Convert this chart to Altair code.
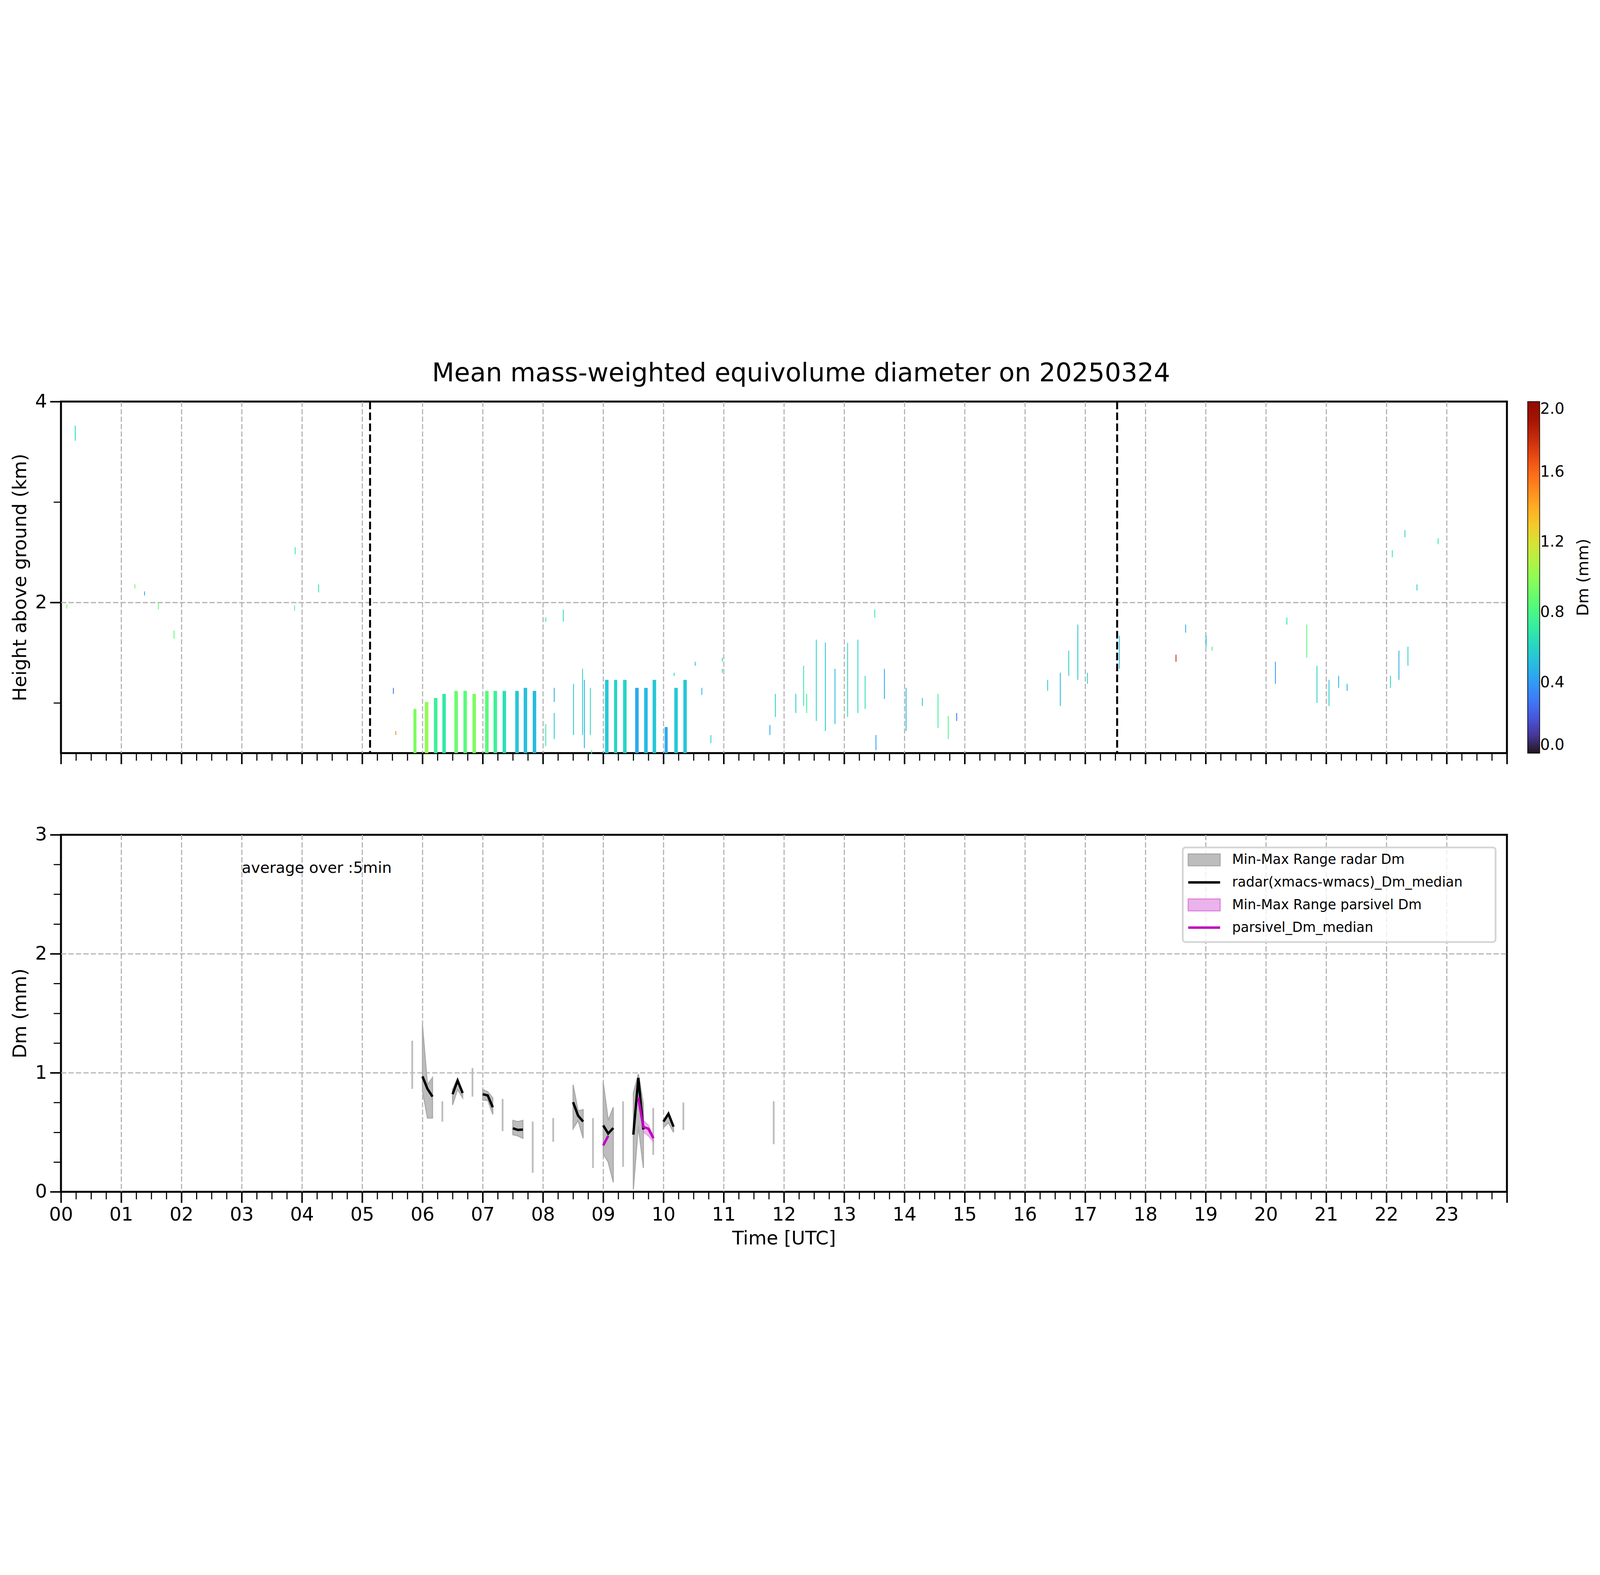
import altair as alt
import pandas as pd

# ---- top panel: radar Dm columns (start hour, width h, bottom km, top km, Dm mm)
col_t = [5.85, 6.04, 6.19, 6.33, 6.53, 6.68, 6.83, 7.04, 7.18, 7.33, 7.54, 7.68, 7.83,
         9.03, 9.18, 9.33, 9.53, 9.68, 9.82, 10.02, 10.18, 10.33]
col_w = [0.05, 0.058, 0.058, 0.058, 0.058, 0.058, 0.058, 0.058, 0.058, 0.058, 0.058, 0.058, 0.058,
         0.058, 0.052, 0.058, 0.058, 0.058, 0.058, 0.05, 0.058, 0.058]
col_lo = [0.5] * 22
col_hi = [0.94, 1.01, 1.05, 1.09, 1.12, 1.12, 1.09, 1.12, 1.12, 1.12, 1.12, 1.15, 1.12,
          1.23, 1.23, 1.23, 1.15, 1.15, 1.23, 0.76, 1.15, 1.23]
col_dm = [0.95, 1.0, 0.75, 0.7, 0.9, 0.85, 0.95, 0.85, 0.75, 0.65, 0.55, 0.52, 0.5,
          0.55, 0.6, 0.6, 0.45, 0.5, 0.55, 0.45, 0.55, 0.55]

# thin scattered sticks
st_t = [0.09, 0.23, 1.22, 1.38, 1.61, 1.87, 3.87, 3.88, 4.27, 5.51, 5.55,
        8.04, 8.04, 8.18, 8.18, 8.33, 8.5, 8.65, 8.68, 8.78, 8.8,
        10.17, 10.52, 10.63, 10.78, 10.97, 10.97, 11.76,
        11.85, 12.19, 12.32, 12.37, 12.53, 12.68, 12.84, 13.05, 13.22, 13.34, 13.5, 13.52, 13.66,
        14.02, 14.29, 14.55, 14.72, 14.86, 16.37, 16.58, 16.72, 16.87, 17.03, 17.56,
        18.5, 18.66, 19.0, 19.1, 20.15, 20.34, 20.67, 20.84, 21.04, 21.2, 21.34,
        22.06, 22.09, 22.2, 22.3, 22.35, 22.5, 22.85]
st_lo = [1.94, 3.61, 2.14, 2.07, 1.93, 1.64, 1.92, 2.48, 2.1, 1.09, 0.68,
         0.57, 1.81, 0.64, 1.01, 1.81, 0.68, 0.68, 0.55, 0.68, 0.49,
         1.27, 1.37, 1.08, 0.6, 1.41, 1.3, 0.68,
         0.86, 0.9, 0.97, 0.9, 0.82, 0.72, 0.79, 0.86, 0.9, 0.94, 1.85, 0.53, 1.04,
         0.72, 0.97, 0.75, 0.64, 0.82, 1.12, 0.97, 1.27, 1.23, 1.19, 1.34,
         1.41, 1.7, 1.56, 1.52, 1.19, 1.78, 1.45, 1.0, 0.97, 1.15, 1.12,
         1.15, 2.45, 1.23, 2.65, 1.37, 2.12, 2.58]
st_hi = [1.98, 3.76, 2.18, 2.11, 2.0, 1.72, 1.97, 2.55, 2.18, 1.15, 0.72,
         0.79, 1.85, 0.9, 1.15, 1.93, 1.19, 1.34, 1.23, 1.15, 0.53,
         1.3, 1.41, 1.15, 0.68, 1.45, 1.34, 0.78,
         1.09, 1.09, 1.37, 1.09, 1.63, 1.6, 1.34, 1.6, 1.63, 1.27, 1.93, 0.68, 1.34,
         1.15, 1.05, 1.09, 0.87, 0.9, 1.23, 1.3, 1.52, 1.78, 1.3, 1.67,
         1.48, 1.78, 1.67, 1.56, 1.41, 1.85, 1.78, 1.37, 1.23, 1.27, 1.19,
         1.27, 2.52, 1.52, 2.72, 1.56, 2.18, 2.64]
st_dm = [0.9, 0.6, 0.9, 0.45, 0.9, 0.85, 0.8, 0.7, 0.7, 0.3, 1.5,
         0.7, 0.65, 0.55, 0.45, 0.65, 0.55, 0.6, 0.45, 0.6, 0.75,
         0.6, 0.55, 0.5, 0.6, 0.65, 0.65, 0.45,
         0.6, 0.55, 0.7, 0.75, 0.6, 0.55, 0.5, 0.65, 0.6, 0.65, 0.7, 0.4, 0.45,
         0.5, 0.55, 0.75, 0.8, 0.3, 0.6, 0.5, 0.6, 0.55, 0.6, 0.5,
         1.8, 0.45, 0.5, 0.8, 0.4, 0.65, 0.85, 0.6, 0.55, 0.5, 0.45,
         0.6, 0.7, 0.45, 0.6, 0.6, 0.55, 0.7]

# ---- bottom panel: 5-min radar Dm statistics (segment id, hour, median, min, max)
r_seg = [1, 1, 1, 2, 2, 2, 3, 3, 3, 4, 4, 4, 5, 5, 5, 6, 6, 6, 7, 7, 7, 8, 8, 8]
r_t = [6.0, 6.083, 6.167, 6.5, 6.583, 6.667, 7.0, 7.083, 7.167, 7.5, 7.583, 7.667,
       8.5, 8.583, 8.667, 9.0, 9.083, 9.167, 9.5, 9.583, 9.667, 10.0, 10.083, 10.167]
r_med = [0.97, 0.865, 0.80, 0.82, 0.935, 0.83, 0.82, 0.81, 0.71, 0.534, 0.52, 0.523,
         0.753, 0.64, 0.59, 0.558, 0.49, 0.536, 0.48, 0.957, 0.523, 0.59, 0.655, 0.547]
r_min = [0.85, 0.62, 0.62, 0.73, 0.86, 0.79, 0.77, 0.77, 0.65, 0.48, 0.47, 0.45,
         0.53, 0.60, 0.45, 0.32, 0.25, 0.08, 0.02, 0.55, 0.20, 0.54, 0.58, 0.50]
r_max = [1.40, 0.90, 0.96, 0.86, 0.95, 0.83, 0.86, 0.84, 0.79, 0.60, 0.59, 0.60,
         0.90, 0.68, 0.69, 0.92, 0.60, 0.71, 0.83, 0.99, 0.74, 0.60, 0.67, 0.56]

# isolated 5-min bins with only a range
s_t = [5.83, 6.33, 6.83, 7.33, 7.83, 8.17, 8.83, 9.33, 9.83, 10.33, 11.83]
s_min = [0.865, 0.59, 0.80, 0.51, 0.16, 0.42, 0.20, 0.21, 0.31, 0.52, 0.40]
s_max = [1.27, 0.76, 1.04, 0.78, 0.59, 0.62, 0.62, 0.76, 0.705, 0.75, 0.76]

# parsivel
p_seg = [1, 1, 2, 2, 2, 2]
p_t = [9.0, 9.083, 9.583, 9.667, 9.75, 9.833]
p_med = [0.39, 0.47, 0.79, 0.545, 0.53, 0.45]
p_min = [0.38, 0.46, 0.74, 0.50, 0.47, 0.42]
p_max = [0.40, 0.48, 0.81, 0.60, 0.56, 0.47]

event_lines = [5.13, 17.53]

legend_labels = ["Min-Max Range radar Dm", "radar(xmacs-wmacs)_Dm_median",
                 "Min-Max Range parsivel Dm", "parsivel_Dm_median"]

W, H1, H2 = 6624, 1610, 1635
FONT = "DejaVu Sans"
GRID = "#b0b0b0"

cols = pd.DataFrame({"t": col_t + st_t,
                     "t2": [a + b for a, b in zip(col_t, col_w)] + [a + 0.014 for a in st_t],
                     "lo": col_lo + st_lo, "hi": col_hi + st_hi, "dm": col_dm + st_dm})

hour_vals = [i * 0.25 for i in range(97)]
is_hour = "abs(datum.value - round(datum.value)) < 0.001"


def x_axis(labels):
    return alt.Axis(values=hour_vals, labels=labels, title="Time [UTC]" if labels else None,
                    labelExpr="abs(datum.value - round(datum.value)) < 0.001 && datum.value < 24 ? (datum.value < 10 ? '0' : '') + round(datum.value) : ''",
                    tickSize={"condition": {"test": is_hour, "value": 50}, "value": 34},
                    tickWidth={"condition": {"test": is_hour, "value": 7}, "value": 5},
                    gridOpacity={"condition": {"test": is_hour + " && datum.value > 0 && datum.value < 24", "value": 1}, "value": 0},
                    labelFlush=False, labelOverlap=False)


xs = alt.Scale(domain=[0, 24], nice=False, zero=False)

heat = alt.Chart(cols).mark_rect().encode(
    x=alt.X("t:Q", scale=xs, axis=x_axis(False)),
    x2="t2:Q",
    y=alt.Y("lo:Q", scale=alt.Scale(domain=[0.5, 4], nice=False, zero=False),
            axis=alt.Axis(values=[1, 2, 3, 4], title="Height above ground (km)",
                          labelExpr="datum.value % 2 === 0 ? datum.value : ''",
                          tickSize={"condition": {"test": "datum.value % 2 === 0", "value": 50}, "value": 34},
                          tickWidth={"condition": {"test": "datum.value % 2 === 0", "value": 7}, "value": 5},
                          gridOpacity={"condition": {"test": "datum.value === 2", "value": 1}, "value": 0})),
    y2="hi:Q",
    color=alt.Color("dm:Q", scale=alt.Scale(scheme="turbo", domain=[0, 2]),
                    legend=alt.Legend(title=None, values=[0, 0.4, 0.8, 1.2, 1.6, 2.0], format=".1f",
                                      gradientLength=H1, gradientThickness=55, offset=95,
                                      gradientStrokeColor="black", gradientStrokeWidth=3,
                                      labelFontSize=70, labelFont=FONT, labelColor="black")),
)
vlines = alt.Chart(pd.DataFrame({"t": event_lines})).mark_rule(
    color="black", strokeWidth=9, strokeDash=[35, 15]).encode(x=alt.X("t:Q", scale=xs))
cbar_title = alt.Chart(pd.DataFrame({"s": ["Dm (mm)"]})).mark_text(
    angle=270, fontSize=74, font=FONT, align="center", baseline="middle").encode(
    x=alt.value(W + 350), y=alt.value(H1 / 2), text="s:N")
top = (heat + vlines + cbar_title).properties(width=W, height=H1)

# bottom panel
rdf = pd.DataFrame({"seg": r_seg, "t": r_t, "med": r_med, "mn": r_min, "mx": r_max})
sdf = pd.DataFrame({"t": s_t, "mn": s_min, "mx": s_max})
pdf = pd.DataFrame({"seg": p_seg, "t": p_t, "med": p_med, "mn": p_min, "mx": p_max})

ys = alt.Scale(domain=[0, 3], nice=False)
dm_vals = [i * 0.25 for i in range(13)]
is_int = "abs(datum.value - round(datum.value)) < 0.001"
yax = alt.Axis(values=dm_vals, title="Dm (mm)", labelExpr=is_int + " ? round(datum.value) : ''",
               tickSize={"condition": {"test": is_int, "value": 50}, "value": 34},
               tickWidth={"condition": {"test": is_int, "value": 7}, "value": 5},
               gridOpacity={"condition": {"test": is_int + " && datum.value > 0 && datum.value < 3", "value": 1}, "value": 0})

r_area = alt.Chart(rdf).mark_area(color="#bdbdbd", stroke="#a9a9a9", strokeWidth=5).encode(
    x=alt.X("t:Q", scale=xs, axis=x_axis(True)), y=alt.Y("mn:Q", scale=ys, axis=yax), y2="mx:Q", detail="seg:N")
s_rule = alt.Chart(sdf).mark_rule(color="#bdbdbd", strokeWidth=8).encode(
    x=alt.X("t:Q", scale=xs), y=alt.Y("mn:Q", scale=ys), y2="mx:Q")
r_line = alt.Chart(rdf).mark_line(color="black", strokeWidth=11).encode(
    x=alt.X("t:Q", scale=xs), y=alt.Y("med:Q", scale=ys), detail="seg:N")
p_area = alt.Chart(pdf).mark_area(color="#e39be3", opacity=0.7, stroke="#d070d0", strokeWidth=4).encode(
    x=alt.X("t:Q", scale=xs), y=alt.Y("mn:Q", scale=ys), y2="mx:Q", detail="seg:N")
p_line = alt.Chart(pdf).mark_line(color="#c000c0", strokeWidth=11).encode(
    x=alt.X("t:Q", scale=xs), y=alt.Y("med:Q", scale=ys), detail="seg:N")
note = alt.Chart(pd.DataFrame({"t": [3.0], "v": [2.72], "s": ["average over :5min"]})).mark_text(
    align="left", baseline="middle", fontSize=70, font=FONT).encode(
    x=alt.X("t:Q", scale=xs), y=alt.Y("v:Q", scale=ys), text="s:N")

# legend box (drawn inside the panel)
box = alt.Chart(pd.DataFrame({"a": [0]})).mark_rect(
    fill="white", fillOpacity=0.8, stroke="#d5d5d5", strokeWidth=8, cornerRadius=12).encode(
    x=alt.value(5139), x2=alt.value(6572), y=alt.value(58), y2=alt.value(491))
leg_y = [115, 218, 321, 425]
leg_parts = [box]
for i, lab in enumerate(legend_labels):
    y0 = leg_y[i]
    one = pd.DataFrame({"label": [lab]})
    if i in (0, 2):
        leg_parts.append(alt.Chart(one).mark_rect(
            fill="#bdbdbd" if i == 0 else "#ebb3eb", stroke="#a9a9a9" if i == 0 else "#dd80dd", strokeWidth=5).encode(
            x=alt.value(5164), x2=alt.value(5310), y=alt.value(y0 - 27), y2=alt.value(y0 + 27)))
    else:
        leg_parts.append(alt.Chart(one).mark_rule(
            color="black" if i == 1 else "#c000c0", strokeWidth=11).encode(
            x=alt.value(5164), x2=alt.value(5310), y=alt.value(y0)))
    leg_parts.append(alt.Chart(one).mark_text(
        align="left", baseline="middle", fontSize=62, font=FONT).encode(
        x=alt.value(5365), y=alt.value(y0), text="label:N"))

bottom = alt.layer(r_area, s_rule, p_area, r_line, p_line, note, *leg_parts).properties(width=W, height=H2)

chart = alt.vconcat(top, bottom, spacing=268).resolve_scale(color="independent").properties(
    title=alt.TitleParams("Mean mass-weighted equivolume diameter on 20250324", fontSize=118,
                          fontWeight="normal", font=FONT, anchor="middle", offset=20),
    padding={"left": 30, "top": 20, "right": 20, "bottom": 10},
    background="white",
).configure_view(stroke="black", strokeWidth=9).configure_axis(
    labelFont=FONT, titleFont=FONT, labelFontSize=86, titleFontSize=86, titleFontWeight="normal",
    labelColor="black", titleColor="black", tickColor="black", domain=False,
    gridColor=GRID, gridDash=[24, 10], gridWidth=5, labelPadding=14, titlePadding=24,
)

chart.save("out.html", embed_options={"renderer": "svg", "actions": False})
